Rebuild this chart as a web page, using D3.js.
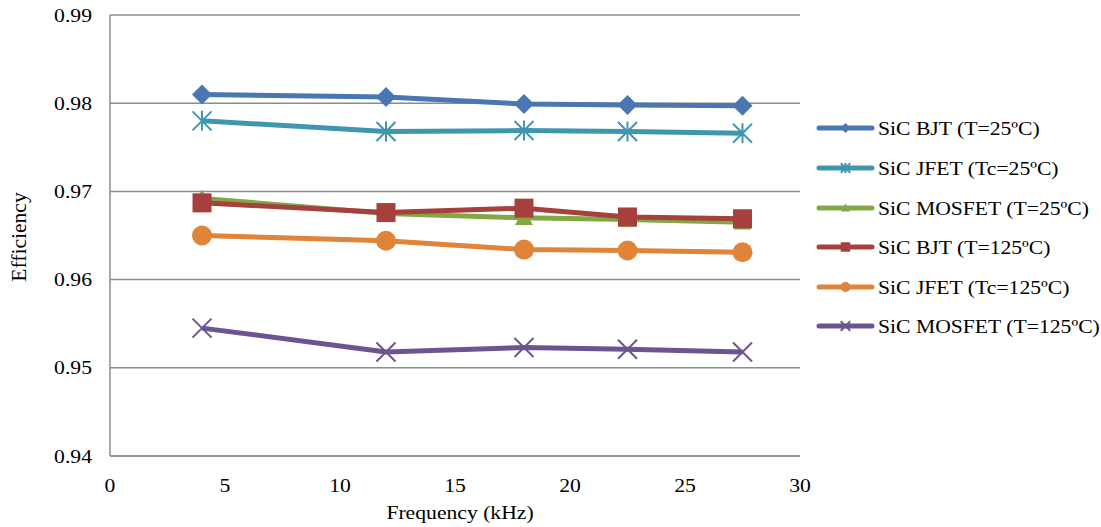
<!DOCTYPE html>
<html><head><meta charset="utf-8">
<script src="https://cdn.jsdelivr.net/npm/d3@7"></script>
<style>body{margin:0;background:#fff}text{font-family:"Liberation Serif","Times New Roman",serif;fill:#000}</style>
</head><body><svg id="c" width="1101" height="527"></svg>
<script>
const freqs = [4, 12, 18, 22.5, 27.5];
const seriesNames = ["SiC BJT (T=25ºC)","SiC JFET (Tc=25ºC)","SiC MOSFET (T=25ºC)","SiC BJT (T=125ºC)","SiC JFET (Tc=125ºC)","SiC MOSFET (T=125ºC)"];
const bjt25 = [0.9810, 0.9807, 0.9799, 0.9798, 0.9797];
const jfet25 = [0.9780, 0.9768, 0.9769, 0.9768, 0.9766];
const mosfet25 = [0.9692, 0.9675, 0.9670, 0.9668, 0.9665];
const bjt125 = [0.9687, 0.9676, 0.9681, 0.9671, 0.9669];
const jfet125 = [0.9650, 0.9644, 0.9634, 0.9633, 0.9631];
const mosfet125 = [0.9545, 0.9518, 0.9523, 0.9521, 0.9518];
const xTicks = [0,5,10,15,20,25,30];
const yTicks = [0.94,0.95,0.96,0.97,0.98,0.99];

const colors = ["#4A76B2","#3F97AF","#84A746","#A6403D","#E0843A","#6C5491"];
const symbols = ["diamond","star","triangle","square","circle","x"];
const allSeries = [bjt25,jfet25,mosfet25,bjt125,jfet125,mosfet125];

const svg = d3.select("#c");
const x = d3.scaleLinear().domain([0,30]).range([110,800]);
const y = d3.scaleLinear().domain([0.94,0.99]).range([456,15]);
const grid = "#8C8C8C";
const FS = 19, SX = 1.14;

function txt(px, py, s, anchor, fs, sx) {
  return svg.append("text")
    .attr("transform", `translate(${px},${py}) scale(${sx||SX},1)`)
    .attr("dy","0.35em").attr("text-anchor",anchor).attr("font-size",fs||FS).text(s);
}

// gridlines
svg.append("g").selectAll("line").data(yTicks).join("line")
  .attr("x1",x(0)).attr("x2",x(30)).attr("y1",d=>y(d)).attr("y2",d=>y(d))
  .attr("stroke",grid).attr("stroke-width",1.5);
// axes
svg.append("line").attr("x1",x(0)).attr("x2",x(0)).attr("y1",y(0.99)).attr("y2",y(0.94)).attr("stroke",grid).attr("stroke-width",1.5);
svg.append("line").attr("x1",x(0)).attr("x2",x(30)).attr("y1",y(0.94)).attr("y2",y(0.94)).attr("stroke",grid).attr("stroke-width",1.5);

yTicks.forEach(d=>txt(92, y(d), d3.format(".2f")(d), "end"));
xTicks.forEach(d=>txt(x(d), 485, d, "middle"));
txt(460, 512, "Frequency (kHz)", "middle");
svg.append("text").attr("transform","translate(26,237) rotate(-90) scale(1.08,1)").attr("text-anchor","middle").attr("font-size",20).text("Efficiency");

function marker(g, type, cx, cy, color, scale) {
  const s = scale || 1;
  if (type==="diamond") {
    const r=10*s;
    g.append("path").attr("d",`M${cx},${cy-r}L${cx+r},${cy}L${cx},${cy+r}L${cx-r},${cy}Z`).attr("fill",color);
  } else if (type==="square") {
    const r=9.5*s;
    g.append("rect").attr("x",cx-r).attr("y",cy-r).attr("width",2*r).attr("height",2*r).attr("fill",color);
  } else if (type==="circle") {
    g.append("circle").attr("cx",cx).attr("cy",cy).attr("r",10*s).attr("fill",color);
  } else if (type==="triangle") {
    const r=9*s;
    g.append("path").attr("d",`M${cx},${cy-r}L${cx+r},${cy+r*0.8}L${cx-r},${cy+r*0.8}Z`).attr("fill",color);
  } else if (type==="x") {
    const r=9.5*s;
    g.append("path").attr("d",`M${cx-r},${cy-r}L${cx+r},${cy+r}M${cx-r},${cy+r}L${cx+r},${cy-r}`).attr("stroke",color).attr("stroke-width",2);
  } else if (type==="star") {
    const r=9.5*s;
    g.append("path").attr("d",`M${cx-r},${cy-r}L${cx+r},${cy+r}M${cx-r},${cy+r}L${cx+r},${cy-r}M${cx},${cy-r*1.05}L${cx},${cy+r*1.05}`).attr("stroke",color).attr("stroke-width",2);
  }
}

const line = d3.line().x((d,i)=>x(freqs[i])).y(d=>y(d));
allSeries.forEach((vals,k)=>{
  const g = svg.append("g");
  g.append("path").datum(vals).attr("d",line).attr("fill","none").attr("stroke",colors[k]).attr("stroke-width",5).attr("stroke-linejoin","round");
  vals.forEach((v,i)=>marker(g,symbols[k],x(freqs[i]),y(v),colors[k]));
});

// legend
const legY = [128,168,208,247,287,326];
seriesNames.forEach((n,k)=>{
  const g = svg.append("g");
  g.append("line").attr("x1",819).attr("x2",872).attr("y1",legY[k]).attr("y2",legY[k]).attr("stroke",colors[k]).attr("stroke-width",5).attr("stroke-linecap","round");
  marker(g,symbols[k],845.5,legY[k],colors[k],0.5);
  txt(878, legY[k], n, "start");
});
</script></body></html>
